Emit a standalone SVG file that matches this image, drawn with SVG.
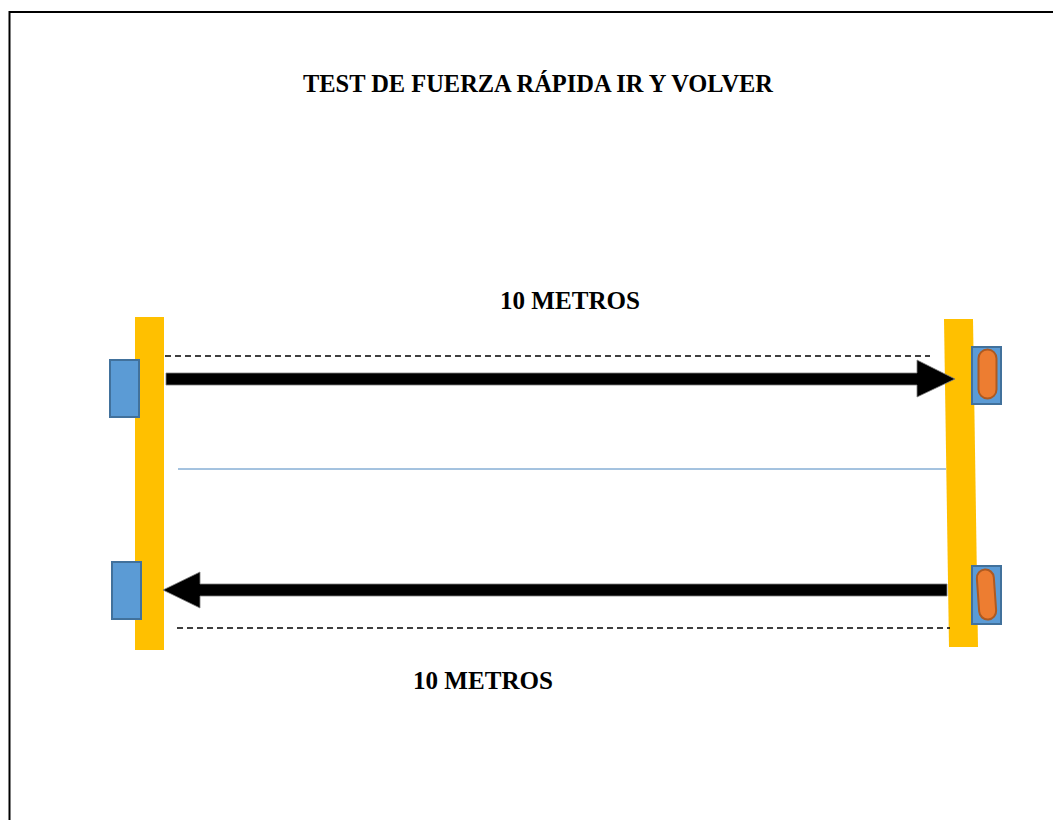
<svg xmlns="http://www.w3.org/2000/svg" width="1053" height="820" viewBox="0 0 1053 820">
<defs>
<style>
.t{font-family:"Liberation Serif","DejaVu Serif",serif;font-weight:bold;fill:#000;font-size:24.5px}
.bar{fill:#FFC000}
.cone{fill:#5B9BD5;stroke:#41719C;stroke-width:2}
.pill{fill:#ED7D31;stroke:#AE5A21;stroke-width:2}
.dash{stroke:#000;stroke-width:1.5;stroke-dasharray:6,4;fill:none}
.arr{fill:#000;stroke:#7f7f7f;stroke-width:0.8}
</style>
</defs>
<rect width="1053" height="820" fill="#fff"/>
<path d="M9.5,820 V12 H1053" fill="none" stroke="#000" stroke-width="2"/>
<text class="t" x="303" y="92" textLength="470" lengthAdjust="spacingAndGlyphs">TEST DE FUERZA RÁPIDA IR Y VOLVER</text>
<text class="t" x="500" y="309" textLength="140" lengthAdjust="spacingAndGlyphs">10 METROS</text>
<text class="t" x="413" y="689" textLength="140" lengthAdjust="spacingAndGlyphs">10 METROS</text>
<g id="left-line"><rect class="bar" x="135" y="317" width="29" height="333"/></g>
<g id="right-line"><polygon class="bar" points="944,319 973,319 978,647 949,647"/></g>
<g id="connectors">
<line class="dash" x1="165" y1="356" x2="930" y2="356"/>
<line class="dash" x1="177" y1="628" x2="950" y2="628"/>
<line x1="178" y1="469" x2="946" y2="469" stroke="#4A86C0" stroke-width="1"/>
<polygon class="arr" points="166,373 917,373 917,360 955,379 917,397 917,385 166,385"/>
<polygon class="arr" points="947,584 200,584 200,572 163,590 200,608 200,596 947,596"/>
</g>
<g id="cone-left-top"><rect class="cone" x="110" y="360" width="29" height="57"/></g>
<g id="cone-left-bottom"><rect class="cone" x="112" y="562" width="29" height="57"/></g>
<g id="cone-right-top"><rect class="cone" x="972" y="347" width="29" height="57"/><rect class="pill" x="978.5" y="349.5" width="18" height="49" rx="9"/></g>
<g id="cone-right-bottom"><rect class="cone" x="972" y="566" width="29" height="58"/><rect class="pill" x="978" y="569.5" width="17" height="50" rx="8.5" transform="rotate(-4 986.5 594.5)"/></g>
</svg>
